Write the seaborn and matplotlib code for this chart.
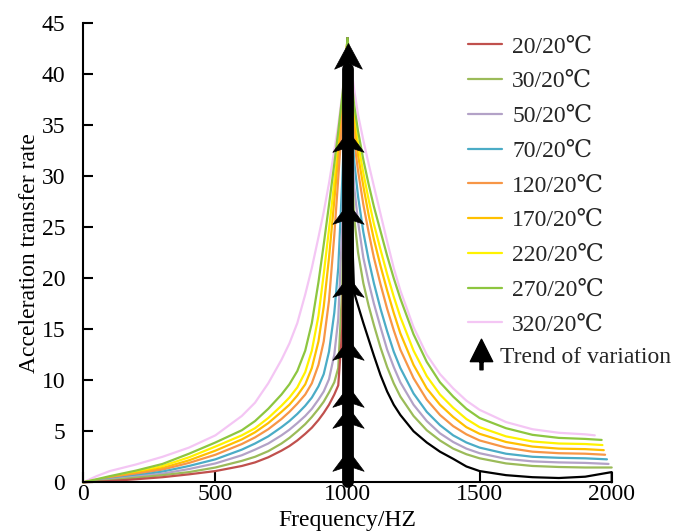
import numpy as np
import pandas as pd
import matplotlib
matplotlib.use("Agg")
import matplotlib.pyplot as plt
import seaborn as sns
from matplotlib.path import Path
from matplotlib.lines import Line2D

# ---------------- data ----------------
labels = ["20/20℃", "30/20℃", "50/20℃", "70/20℃", "120/20℃",
          "170/20℃", "220/20℃", "270/20℃", "320/20℃"]
colors = ["#C0504D", "#9BBB59", "#B3A2C7", "#4BACC6", "#F79646",
          "#FFC000", "#FFF200", "#8DC63F", "#F4C6F4"]
right_color_20 = "#000000"

freq_left = [0, 50, 100, 200, 300, 400, 500, 600, 650, 700, 750, 780, 810, 840,
             865, 890, 910, 930, 950, 965, 980, 990, 1000]
left_20 = [0, 0.05, 0.12, 0.3, 0.5, 0.78, 1.1, 1.6, 1.95, 2.45, 3.1, 3.55, 4.1, 4.75,
           5.35, 6.1, 6.8, 7.6, 8.6, 9.5, 15, 29, 43.5]
left_30 = [0, 0.1, 0.2, 0.45, 0.7, 1.0, 1.45, 2.1, 2.5, 3.05, 3.8, 4.35, 5.0, 5.7,
           6.4, 7.2, 7.9, 8.8, 9.8, 11.2, 19, 31, 43.5]
left_50 = [0, 0.12, 0.25, 0.55, 0.85, 1.3, 1.85, 2.65, 3.2, 3.8, 4.6, 5.15, 5.8, 6.5,
           7.2, 8.1, 8.9, 10.1, 12.5, 16.0, 25.0, 34.5, 43.5]
left_70 = [0, 0.15, 0.3, 0.65, 1.05, 1.6, 2.25, 3.2, 3.8, 4.5, 5.4, 6.0, 6.7, 7.5,
           8.3, 9.4, 10.6, 12.8, 16.6, 21.0, 29.5, 36.5, 43.5]
left_120 = [0, 0.18, 0.4, 0.8, 1.25, 1.9, 2.7, 3.75, 4.4, 5.2, 6.2, 6.9, 7.7, 8.6,
            9.7, 11.5, 13.8, 17.8, 24.2, 29.8, 35.5, 39.4, 43.5]
left_170 = [0, 0.2, 0.45, 0.9, 1.4, 2.15, 3.1, 4.2, 4.9, 5.8, 6.9, 7.6, 8.5, 9.6,
            11.2, 13.8, 17.2, 22.0, 27.6, 32.0, 36.8, 39.9, 43.5]
left_220 = [0, 0.25, 0.5, 1.0, 1.6, 2.45, 3.5, 4.6, 5.3, 6.3, 7.5, 8.3, 9.3, 10.8,
            12.9, 16.3, 20.4, 24.8, 29.4, 33.0, 37.2, 40.1, 43.5]
left_270 = [0, 0.3, 0.6, 1.15, 1.8, 2.8, 3.9, 5.1, 6.0, 7.2, 8.6, 9.6, 10.9, 12.9,
            15.6, 19.6, 23.3, 27.2, 31.2, 34.4, 37.8, 40.3, 43.5]
left_320 = [0, 0.6, 1.1, 1.75, 2.5, 3.4, 4.6, 6.5, 7.8, 9.7, 12.0, 13.6, 15.6, 18.4,
            21.0, 24.0, 26.5, 29.3, 32.5, 35.0, 38.0, 40.4, 43.5]

freq_right = [1000, 1010, 1025, 1040, 1060, 1080, 1100, 1125, 1150, 1175, 1200, 1250,
              1300, 1350, 1400, 1450, 1500, 1600, 1700, 1800, 1900]
right_20 = [43.5, 30, 18.6, 17.3, 15.6, 14.0, 12.4, 10.5, 8.9, 7.6, 6.6, 5.0,
            3.9, 3.0, 2.3, 1.55, 1.1, 0.7, 0.5, 0.42, 0.55]
right_30 = [43.5, 35, 26, 22.5, 19.5, 17.3, 15.4, 13.2, 11.3, 9.7, 8.4, 6.5,
            5.1, 4.1, 3.3, 2.75, 2.35, 1.85, 1.6, 1.5, 1.45]
right_50 = [43.5, 37, 29, 25.5, 22.0, 19.6, 17.5, 15.2, 13.0, 11.3, 9.8, 7.6,
            6.0, 4.8, 3.95, 3.3, 2.85, 2.3, 2.05, 1.95, 1.9]
right_70 = [43.5, 38.5, 31.5, 28, 24.5, 21.8, 19.5, 17.0, 14.8, 12.8, 11.2, 8.7,
            6.9, 5.6, 4.6, 3.9, 3.4, 2.8, 2.5, 2.4, 2.35]
right_120 = [43.5, 39.5, 33.5, 30.5, 27.2, 24.5, 22.0, 19.4, 17.0, 14.9, 13.0, 10.2,
             8.1, 6.6, 5.5, 4.7, 4.1, 3.4, 3.0, 2.85, 2.8]
right_170 = [43.5, 40, 35, 32, 29, 26.2, 23.8, 21.2, 18.8, 16.6, 14.6, 11.5,
             9.2, 7.6, 6.4, 5.4, 4.75, 3.95, 3.5, 3.3, 3.25]
right_220 = [43.5, 40.5, 36, 33.2, 30.3, 27.7, 25.3, 22.8, 20.4, 18.2, 16.2, 12.9,
             10.4, 8.6, 7.3, 6.2, 5.4, 4.5, 4.0, 3.8, 3.75]
right_270 = [43.5, 41, 37, 34.4, 31.6, 29.2, 27.0, 24.6, 22.2, 20.0, 18.0, 14.5,
             11.8, 9.8, 8.4, 7.2, 6.3, 5.3, 4.65, 4.35, 4.25]
right_320 = [43.5, 41.5, 38.5, 36, 33.5, 31.2, 29.0, 26.3, 23.6, 21.0, 18.8, 15.2,
             12.5, 10.6, 9.2, 8.0, 7.1, 5.9, 5.2, 4.85, 4.7]

end_freq = [2000, 2000, 1988, 1982, 1975, 1970, 1965, 1962, 1936]
end_val = [1.0, 1.45, 1.8, 2.25, 2.7, 3.15, 3.65, 4.15, 4.6]
drop_20 = 0.0  # the black branch closes down to the axis at 2000

arrow_freq = 1000
arrow_tips = [3.2, 7.4, 9.4, 14.0, 20.2, 27.4, 34.4, 43.0]

left_all = [left_20, left_30, left_50, left_70, left_120, left_170, left_220, left_270, left_320]
right_all = [right_20, right_30, right_50, right_70, right_120, right_170, right_220, right_270, right_320]

# ---------------- style ----------------
sns.set_theme(style="white")
plt.rcParams["font.family"] = ["Liberation Serif", "DejaVu Serif"]
FS = 17

fig = plt.figure(figsize=(6.87, 5.32), dpi=100)
ax = fig.add_axes([83.3 / 687, 1 - 482.3 / 532, (611.7 - 83.3) / 687, (482.3 - 23) / 532])

LW = 1.6
order = [8, 6, 5, 4, 3, 2, 1, 0, 7]
for i in order:
    dl = pd.DataFrame({"freq": freq_left, "value": left_all[i]})
    sns.lineplot(data=dl, x="freq", y="value", color=colors[i], lw=LW, ax=ax,
                 legend=False, sort=False, estimator=None)
    fr = list(freq_right) + [end_freq[i]]
    vr = list(right_all[i]) + [end_val[i]]
    col = colors[i]
    if i == 0:
        fr = fr + [end_freq[i]]
        vr = vr + [drop_20]
        col = right_color_20
    dr = pd.DataFrame({"freq": fr, "value": vr})
    sns.lineplot(data=dr, x="freq", y="value", color=col, lw=LW, ax=ax,
                 legend=False, sort=False, estimator=None)
for l in ax.get_lines():
    l.set_clip_on(False)
    l.set_solid_joinstyle("round")

# arrow (trend of variation)
ax.plot([arrow_freq, arrow_freq], [0, max(arrow_tips) - 2.5], color="black", lw=8.5,
        solid_capstyle="round", clip_on=False, zorder=6)
head_small = Path([(0, 0), (15, -20), (0, -15), (-15, -20), (0, 0)],
                  [Path.MOVETO, Path.LINETO, Path.LINETO, Path.LINETO, Path.CLOSEPOLY])
head_big = Path([(0, 0), (14, -26), (0, -20), (-14, -26), (0, 0)],
                [Path.MOVETO, Path.LINETO, Path.LINETO, Path.LINETO, Path.CLOSEPOLY])
ax.plot([arrow_freq] * (len(arrow_tips) - 1), arrow_tips[:-1], ls="none", marker=head_small,
        ms=30, color="black", mec="black", mew=0.5, clip_on=False, zorder=7)
ax.plot([arrow_freq], arrow_tips[-1:], ls="none", marker=head_big,
        ms=37, color="black", mec="black", mew=0.5, clip_on=False, zorder=7)

ax.set_xlim(0, 2000)
ax.set_ylim(0, 45)
ax.set_xticks([0, 500, 1000, 1500, 2000])
ax.set_yticks(list(range(0, 46, 5)))
ax.tick_params(axis="both", direction="in", length=7, width=1.5, color="black",
               labelsize=FS, labelcolor="black")
ax.tick_params(axis="y", pad=13, left=True)
ax.tick_params(axis="x", pad=1, bottom=True)
for s in ["top", "right"]:
    ax.spines[s].set_visible(False)
for s in ["left", "bottom"]:
    ax.spines[s].set_color("black")
    ax.spines[s].set_linewidth(1.5)
ax.set_xlabel("Frequency/HZ", fontsize=FS, color="black", labelpad=4)
ax.set_ylabel("Acceleration transfer rate", fontsize=FS, color="black", labelpad=1)
ax.grid(False)

# legends
handles = [Line2D([], [], color=c, lw=LW) for c in colors]
leg1 = ax.legend(handles, labels, loc="upper left",
                 bbox_to_anchor=(468 / 687, 1 - 36 / 532), bbox_transform=fig.transFigure,
                 frameon=False, fontsize=FS, handlelength=1.45, handletextpad=0.42,
                 labelspacing=0.56, borderpad=0, borderaxespad=0)
ax.add_artist(leg1)

head = Path([(0, 15), (11, -7), (-11, -7), (0, 15)],
            [Path.MOVETO, Path.LINETO, Path.LINETO, Path.CLOSEPOLY])
stem = Path([(-1.5, -7), (1.5, -7), (1.5, -15), (-1.5, -15), (-1.5, -7)],
            [Path.MOVETO, Path.LINETO, Path.LINETO, Path.LINETO, Path.CLOSEPOLY])
arrow_icon = Path.make_compound_path(head, stem)
arrow_handle = Line2D([], [], ls="none", marker=arrow_icon, ms=22, color="black", mec="black")
leg2 = ax.legend([arrow_handle], ["Trend of variation"], loc="upper left",
                 bbox_to_anchor=(468 / 687, 1 - 346 / 532), bbox_transform=fig.transFigure,
                 frameon=False, fontsize=FS, handlelength=1.1, handletextpad=0.25,
                 borderpad=0, borderaxespad=0)

fig.savefig("out.png", dpi=100)
